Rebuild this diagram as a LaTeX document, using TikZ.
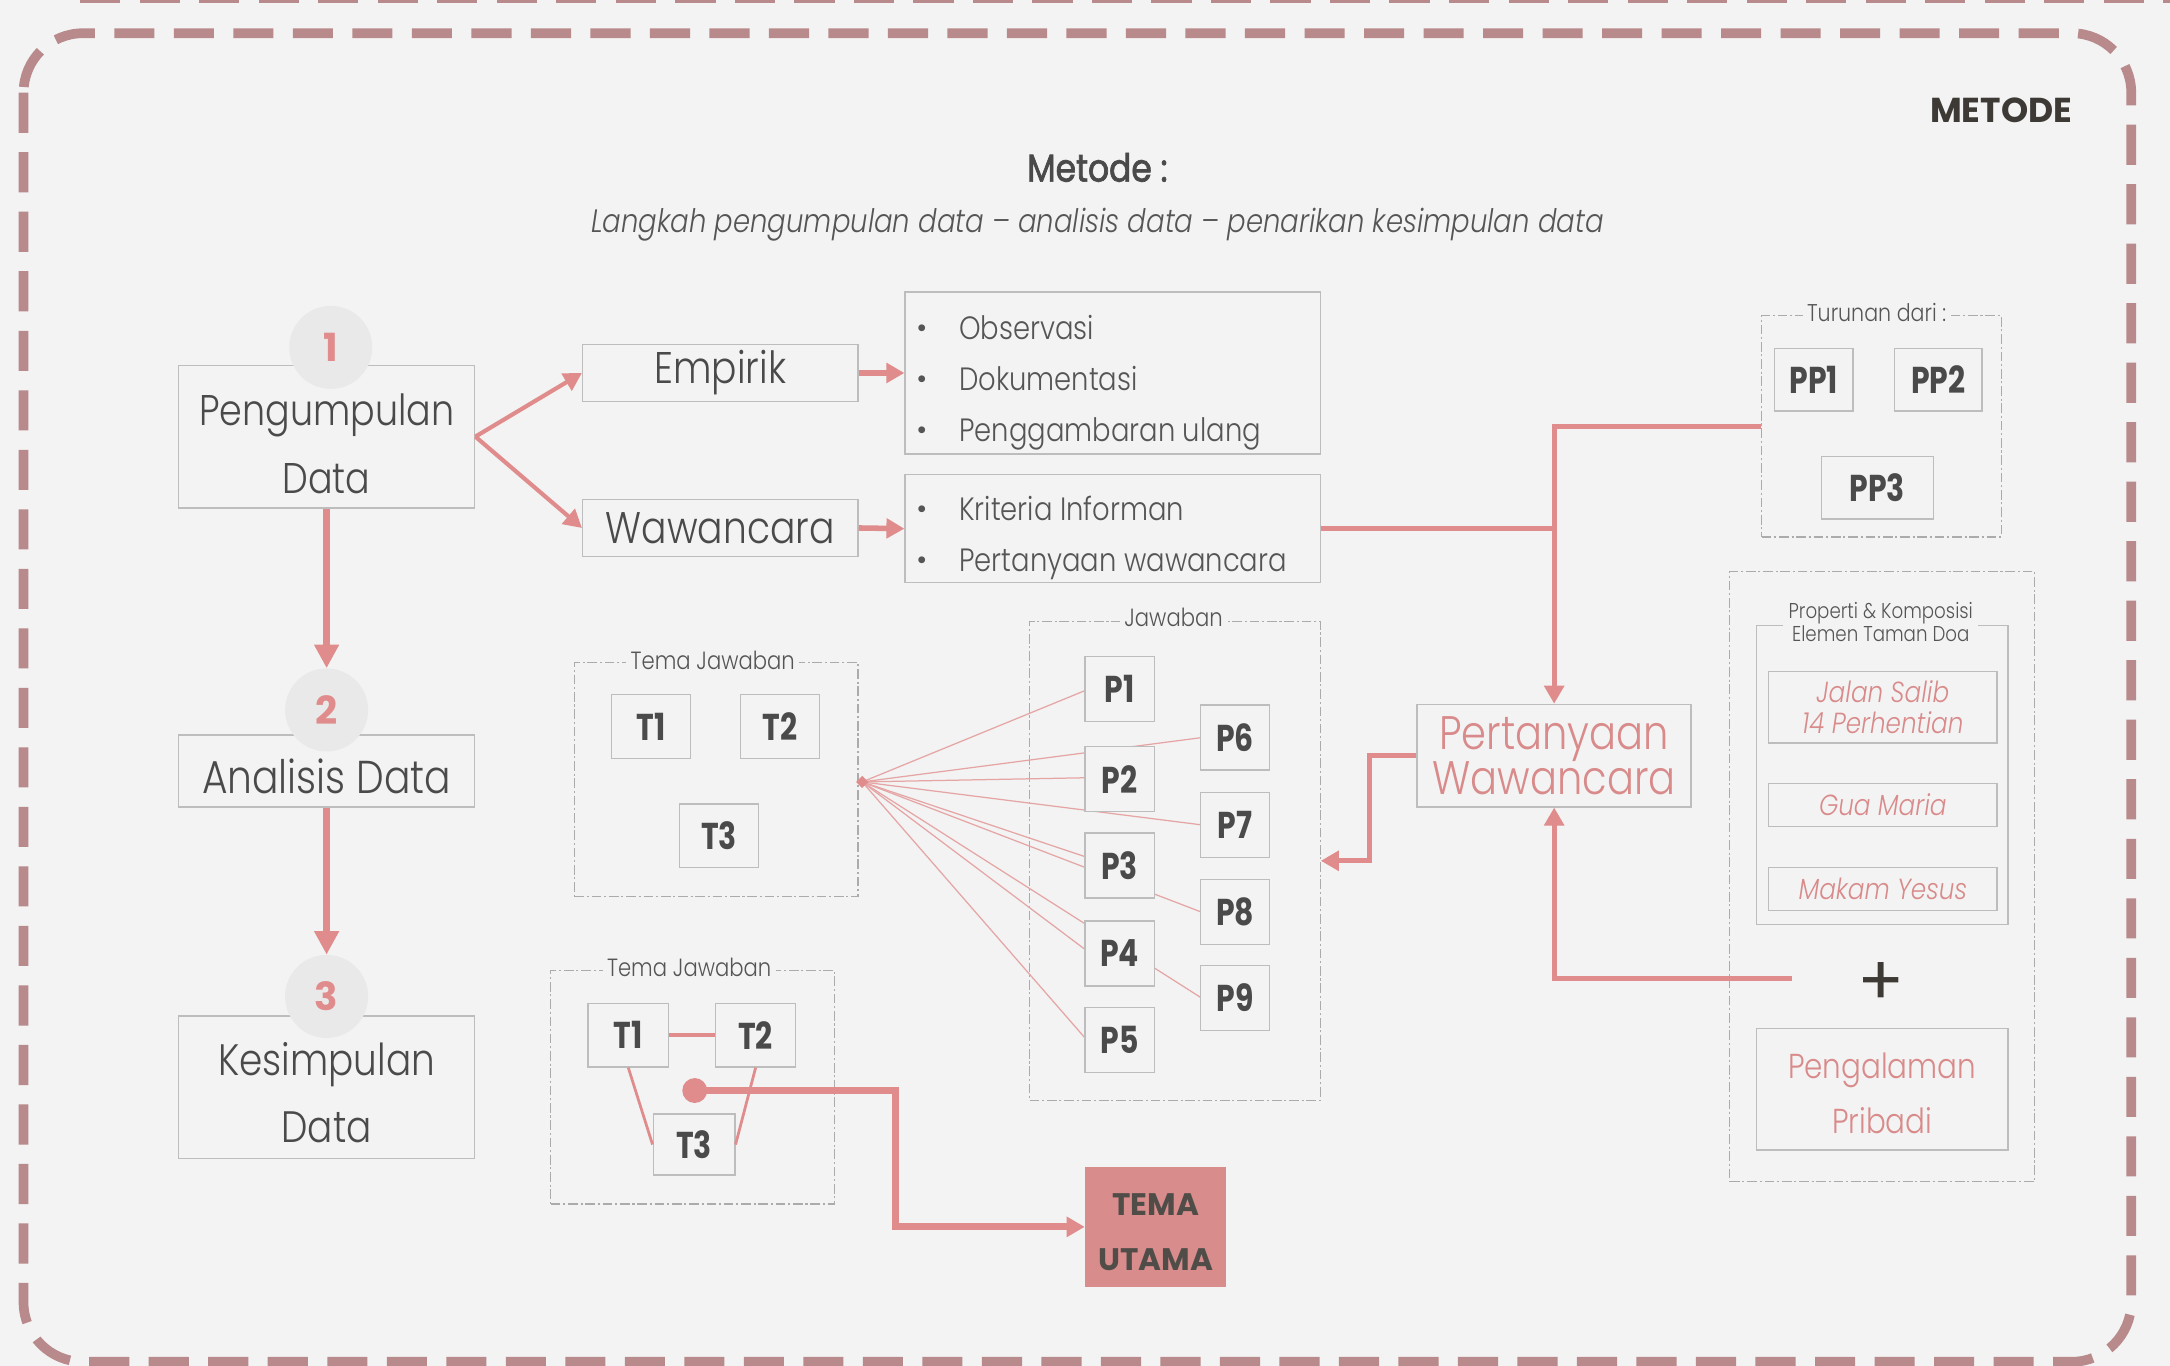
\documentclass[tikz,border=0pt]{standalone}
\usepackage{fontspec}
\setmainfont{Poppins}[FakeStretch=0.85, UprightFont=* Light, ItalicFont=* Light Italic, BoldFont=* Bold, BoldItalicFont=* Bold Italic]
\newfontfamily\condf{Poppins}[FakeStretch=0.8]
\newfontfamily\widef{Poppins}
\newfontfamily\regf{Poppins}[FakeStretch=0.85, FakeBold=1.8]
\usetikzlibrary{arrows.meta,shapes.geometric}
\definecolor{bg}{HTML}{F3F3F3}
\definecolor{frame}{HTML}{B88A8C}
\definecolor{pinkl}{HTML}{E08C8C}
\definecolor{pinkf}{HTML}{E6A5A5}
\definecolor{pinkt}{HTML}{D98A8A}
\definecolor{boxc}{HTML}{BDBDBD}
\definecolor{grpc}{HTML}{ABABAB}
\definecolor{txt}{HTML}{4A4A4A}
\definecolor{txtl}{HTML}{555555}
\definecolor{titc}{HTML}{3D3935}
\definecolor{numbg}{HTML}{E9E9E9}
\definecolor{temaf}{HTML}{D98C8C}
\tikzset{
  box/.style={draw=boxc, line width=1pt, fill=bg, inner sep=0pt, align=center, text=txt},
  lbl/.style={inner sep=0pt, align=center, text=txt},
  grp/.style={draw=grpc, line width=0.8pt, dash pattern=on 7pt off 2pt on 1.5pt off 2pt, inner sep=0pt},
  glabel/.style={fill=bg, text=txtl, inner sep=3pt, align=center, font=\fontsize{18}{20}\selectfont},
  numc/.style={circle, fill=numbg, minimum size=60pt, inner sep=0pt, text=pinkl, font=\widef\bfseries\fontsize{28}{28}\selectfont},
  conn/.style={draw=pinkl, line width=4pt},
  fanl/.style={draw=pinkf, line width=0.9pt},
  tip/.style={-{Triangle[length=13pt,width=14pt]}},
  bigtip/.style={-{Triangle[length=17pt,width=17pt]}},
  pbox/.style={box, minimum width=50pt, minimum height=47pt, font=\condf\bfseries\fontsize{27}{27}\selectfont},
  tbox/.style={box, minimum width=57pt, minimum height=46pt, font=\condf\bfseries\fontsize{27}{27}\selectfont},
  listt/.style={anchor=west, text=txtl, inner sep=0pt, text height=16pt, text depth=6pt, font=\fontsize{23.3}{23}\selectfont},
  bul/.style={text=txtl, inner sep=0pt, font=\widef\fontsize{20}{20}\selectfont},
  pinkbox/.style={box, text=pinkt, font=\itshape\fontsize{21}{22}\selectfont}
}
\begin{document}
\begin{tikzpicture}[x=1pt,y=-1pt]
\fill[bg] (0,0) rectangle (1568,987);
\useasboundingbox (0,0) rectangle (1568,987);
% frames
\draw[frame, line width=7pt, dash pattern=on 29pt off 14pt] (58,-1.5) -- (1568,-1.5);
\draw[frame, line width=7pt, dash pattern=on 29pt off 14pt, rounded corners=43pt] (17,24) rectangle (1540,984);

% titles
\node[text=titc, font=\widef\bfseries\fontsize{25}{25}\selectfont] (ttl) at (1446,80) {METODE};
\node[text=txt, font=\regf\fontsize{28}{28}\selectfont] (met) at (793,121) {Metode :};
\node[text=txtl, font=\itshape\fontsize{23.4}{24}\selectfont] (sub) at (793,162) {Langkah pengumpulan data – analisis data – penarikan kesimpulan data};

% left column
\node[box, minimum width=214pt, minimum height=103pt] (n1) at (236,315.5) {};
\node[lbl, font=\fontsize{31}{49}\selectfont] (n1t) at (236,320.5) {Pengumpulan\\Data};
\node[box, minimum width=214pt, minimum height=52pt] (n2) at (236,557) {};
\node[lbl, font=\fontsize{33.3}{40}\selectfont] (n2t) at (236,561) {Analisis Data};
\node[box, minimum width=214pt, minimum height=103pt] (n3) at (236,785.5) {};
\node[lbl, font=\fontsize{31.8}{49}\selectfont] (n3t) at (236,789.5) {Kesimpulan\\Data};
\node[numc] (c1) at (239,251) {1};
\node[numc] (c2) at (236,513) {2};
\node[numc] (c3) at (236,720) {3};
\draw[conn, line width=5pt, bigtip] (n1.south) -- (c2.north);
\draw[conn, line width=5pt, bigtip] (n2.south) -- (c3.north);

% empirik / wawancara
\node[box, minimum width=199pt, minimum height=41pt, font=\fontsize{32}{32}\selectfont] (emp) at (520.5,269.5) {Empirik};
\node[box, minimum width=199pt, minimum height=41pt, font=\fontsize{32}{32}\selectfont] (waw) at (520.5,381.5) {Wawancara};
\draw[conn, line width=3pt, tip] (n1.east) -- (emp.west);
\draw[conn, line width=3pt, tip] (n1.east) -- (waw.west);

\node[box, minimum width=300pt, minimum height=117pt] (l1) at (804,269.5) {};
\node[box, minimum width=300pt, minimum height=78pt] (l2) at (804,382) {};
\draw[conn, line width=4pt, tip] (emp.east) -- (l1.west);
\draw[conn, line width=4pt, tip] (waw.east) -- (l2.west);
\node[bul] (b1) at (666,239) {•};
\node[bul] (b2) at (666,276) {•};
\node[bul] (b3) at (666,313) {•};
\node[bul] (b4) at (666,370) {•};
\node[bul] (b5) at (666,407) {•};
\node[listt] (i1) at (693,240) {Observasi};
\node[listt] (i2) at (693,277) {Dokumentasi};
\node[listt] (i3) at (693,314) {Penggambaran ulang};
\node[listt] (i4) at (693,371) {Kriteria Informan};
\node[listt] (i5) at (693,408) {Pertanyaan wawancara};

% Turunan dari group
\node[grp, minimum width=173pt, minimum height=160pt] (tur) at (1359.5,308) {};
\node[glabel, font=\fontsize{17.5}{19}\selectfont] (turl) at (1356,226) {Turunan dari :};
\node[tbox, minimum width=57pt, minimum height=45pt] (pp1) at (1310.5,274.5) {PP1};
\node[tbox, minimum width=63pt, minimum height=45pt] (pp2) at (1400.5,274.5) {PP2};
\node[tbox, minimum width=81pt, minimum height=45pt] (pp3) at (1356.5,352.5) {PP3};

% Pertanyaan Wawancara
\node[box, minimum width=198pt, minimum height=74pt, text=pinkt, font=\fontsize{34}{33}\selectfont] (pw) at (1123,546) {Pertanyaan\\Wawancara};
\draw[conn, line width=3.5pt, tip] (tur.west) -- (tur.west -| pw.north) -- (pw.north);
\draw[conn, line width=3.5pt] (l2.east) -- (l2.east -| pw.north);

% Properti group
\node[grp, minimum width=220pt, minimum height=441pt] (prop) at (1360,633.5) {};
\node[draw=boxc, line width=1pt, minimum width=182pt, minimum height=216pt, inner sep=0pt] (inner) at (1360,560) {};
\node[glabel, font=\fontsize{15.5}{17}\selectfont, inner xsep=4pt, inner ysep=1pt] (propl) at (1359,449.5) {Properti \& Komposisi\\Elemen Taman Doa};
\node[pinkbox, minimum width=165pt, minimum height=52pt] (js) at (1360.5,511) {Jalan Salib\\14 Perhentian};
\node[pinkbox, minimum width=165pt, minimum height=31pt] (gm) at (1360.5,581.5) {Gua Maria};
\node[pinkbox, minimum width=165pt, minimum height=31pt] (my) at (1360.5,642.5) {Makam Yesus};
\node[text=titc, font=\widef\fontsize{50}{50}\selectfont, inner sep=0pt] (plus) at (1359,711) {+};
\node[box, minimum width=182pt, minimum height=88pt] (peng) at (1360,787) {};
\node[lbl, text=pinkt, font=\fontsize{25}{40}\selectfont] (pengt) at (1360,790) {Pengalaman\\Pribadi};
\coordinate (pst) at (1295,707);
\draw[conn, line width=3.5pt, tip] (pst) -| (pw.south);

% Tema Jawaban 1
\node[grp, minimum width=205pt, minimum height=169pt] (tj1) at (517.5,563.5) {};
\node[glabel] (tj1l) at (515,477) {Tema Jawaban};
\node[tbox] (ta1) at (470.5,525) {T1};
\node[tbox] (ta2) at (563.5,525) {T2};
\node[tbox] (ta3) at (519.5,604) {T3};

% Jawaban group
\node[grp, minimum width=210pt, minimum height=346pt] (jaw) at (849,622) {};
\node[glabel] (jawl) at (848,446) {Jawaban};
\coordinate (fo) at (623,565);
\coordinate (p3in) at (784,619);
\coordinate (p4in) at (784,686);
\draw[fanl] (fo) -- (784,499);
\draw[fanl] (fo) -- (868,533);
\draw[fanl] (fo) -- (784,562);
\draw[fanl] (fo) -- (868,596);
\draw[fanl] (fo) -- (p3in);
\draw[fanl] (fo) -- (868,659);
\draw[fanl] (fo) -- (p4in);
\draw[fanl] (fo) -- (868,721);
\draw[fanl] (fo) -- (784,750);
\node[diamond, fill=pinkl, minimum size=9pt, inner sep=0pt] (fod) at (fo) {};
\node[pbox] (p1) at (809,498) {P1};
\node[pbox] (p6) at (892.5,533) {P6};
\node[pbox] (p2) at (809,563) {P2};
\node[pbox] (p7) at (892.5,596) {P7};
\node[pbox] (p3) at (809,625.5) {P3};
\node[pbox] (p8) at (892.5,659) {P8};
\node[pbox] (p4) at (809,689) {P4};
\node[pbox] (p9) at (892.5,721) {P9};
\node[pbox] (p5) at (809,751.5) {P5};
\draw[conn, line width=3.5pt, tip] (pw.west) -- ++(-34,0) |- (jaw.east);

% Tema Jawaban 2
\node[grp, minimum width=205pt, minimum height=169pt] (tj2) at (500.5,785.5) {};
\node[glabel] (tj2l) at (498,699) {Tema Jawaban};
\node[tbox, minimum width=58pt] (tb1) at (454,748) {T1};
\node[tbox, minimum width=58pt] (tb2) at (546,748) {T2};
\node[tbox, minimum width=59pt, minimum height=44pt] (tb3) at (501.5,827) {T3};
\draw[conn, line width=3pt] (tb1.east) -- (tb2.west);
\draw[conn, line width=2pt] (tb1.south) -- (tb3.west);
\draw[conn, line width=2pt] (tb2.south) -- (tb3.east);
\node[circle, fill=pinkl, minimum size=18pt, inner sep=0pt] (dot) at (502,788) {};
\node[fill=temaf, minimum width=102pt, minimum height=87pt, inner sep=0pt] (tema) at (835,886.5) {};
\node[lbl, text=titc!90!white, font=\widef\bfseries\fontsize{22.5}{40}\selectfont] (temat) at (835,890.5) {TEMA\\UTAMA};
\draw[conn, line width=5pt, tip] (dot.center) -- (647,788) |- (tema.west);
\end{tikzpicture}
\end{document}
